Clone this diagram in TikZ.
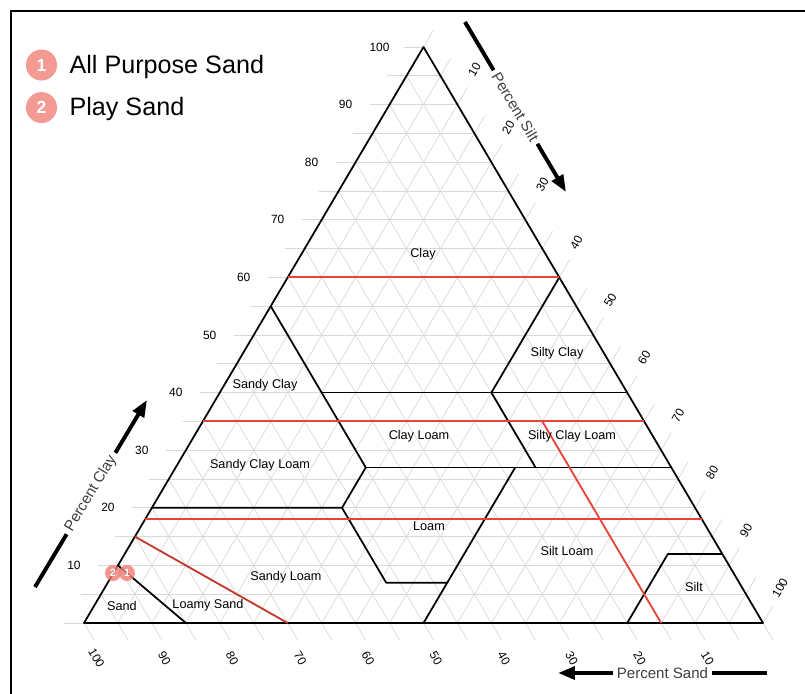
\documentclass[tikz,border=0pt]{standalone}
\usepackage{fontspec}
\setmainfont{Liberation Sans}
\usetikzlibrary{arrows.meta,positioning}

\definecolor{gridgray}{HTML}{D8D8D8}
\definecolor{markred}{HTML}{E8433A}
\definecolor{darkmark}{HTML}{C0392B}
\definecolor{dotpink}{HTML}{F39A92}
\definecolor{samplepink}{HTML}{F07C74}
\definecolor{titlegray}{HTML}{404040}

% point of the chart from clay and silt percent
\newcommand{\soilpt}[3]{\coordinate (#1) at ({84+6.79*(#3+#2/2)},{623-5.76*#2});}

\begin{document}
\begin{tikzpicture}[x=0.025cm, y=-0.025cm,
    gridline/.style={draw=gridgray, line width=0.5pt},
    border/.style={draw=black, line width=1.25pt, line join=round},
    redline/.style={draw=markred, line width=1.3pt},
    ticklabel/.style={font=\fontsize{8.5}{9}\selectfont},
    classlabel/.style={font=\fontsize{9}{10}\selectfont},
    axistitle/.style={font=\fontsize{10.7}{12}\selectfont, text=titlegray, fill=white, inner xsep=3pt, inner ysep=1pt, sloped},
    axisarrow/.style={line width=2.8pt, -{Triangle[length=12pt, width=9pt]}},
    legenddot/.style={circle, fill=dotpink, text=white, minimum size=0.775cm, inner sep=0pt, font=\fontsize{12.5}{12}\selectfont\bfseries},
    legendtext/.style={inner sep=0pt, font=\fontsize{17.9}{20}\selectfont},
    sampledot/.style={circle, fill=samplepink, fill opacity=0.8, text opacity=1, text=white, minimum size=0.4cm, inner sep=0pt, font=\fontsize{7.5}{7}\selectfont\bfseries}]

    \useasboundingbox (0,0) rectangle (805,693);
    \draw[line width=1.4pt] (11,700) -- (11,11) -- (810,11);

    % grid, every 5 percent
    \foreach \c in {0,5,...,100}
        \draw[gridline] ({64+3.395*\c},{623-5.76*\c}) -- ({763-3.395*\c},{623-5.76*\c});
    \foreach \s in {0,5,...,100}
        \draw[gridline] ({84+6.79*\s},623) -- ({433.7+3.395*\s},{29.7+5.76*\s});
    \foreach \k in {0,5,...,100}
        \draw[gridline] ({84+3.395*\k},{623-5.76*\k}) -- ({94.2+6.79*\k},640.3);

    % tick labels
    \foreach \c in {10,20,...,100}
        \node[ticklabel] at ({40+3.395*\c},{623-5.76*\c}) {\c};
    \foreach \s in {10,20,...,100}
        \node[ticklabel, rotate=60] at ({440.5+3.395*\s},{12+5.76*\s}) {\s};
    \foreach \p in {10,20,...,100}
        \node[ticklabel, rotate=-60] at ({775.5-6.79*\p},658) {\p};

    \soilpt{sandc}{0}{0}
    \soilpt{siltc}{0}{100}
    \soilpt{clayc}{100}{0}
    \soilpt{sc55}{55}{0}
    \soilpt{cl40a}{40}{15}
    \soilpt{cl40b}{40}{40}
    \soilpt{cl40c}{40}{60}
    \soilpt{cl60}{60}{40}
    \soilpt{cl35a}{35}{0}
    \soilpt{cl35b}{35}{20}
    \soilpt{cl27a}{27}{28}
    \soilpt{cl27b}{27}{50}
    \soilpt{cl27c}{27}{53}
    \soilpt{cl27d}{27}{73}
    \soilpt{cl20a}{20}{0}
    \soilpt{cl20b}{20}{28}
    \soilpt{cl7a}{7}{41}
    \soilpt{cl7b}{7}{50}
    \soilpt{si50}{0}{50}
    \soilpt{si80}{0}{80}
    \soilpt{cl12a}{12}{80}
    \soilpt{cl12b}{12}{88}
    \soilpt{sa90}{10}{0}
    \soilpt{sa85}{0}{15}
    \soilpt{ls85}{15}{0}
    \soilpt{ls70}{0}{30}
    \soilpt{redtopa}{60}{0}
    \soilpt{redtopb}{60}{40}
    \soilpt{redmida}{35}{0}
    \soilpt{redmidb}{35}{65}
    \soilpt{redlowa}{18}{0}
    \soilpt{redlowb}{18}{82}
    \soilpt{redsanda}{35}{50}
    \soilpt{redsandb}{0}{85}

    % class boundaries
    \draw[border] (sc55) -- (cl27a);
    \draw[border] (cl40a) -- (cl40c);
    \draw[border] (cl40b) -- (cl60);
    \draw[border] (cl40b) -- (cl27c);
    \draw[border] (cl27a) -- (cl27d);
    \draw[border] (cl35a) -- (cl35b);
    \draw[border] (cl20a) -- (cl20b) -- (cl27a);
    \draw[border] (cl20b) -- (cl7a) -- (cl7b) -- (si50);
    \draw[border] (cl7b) -- (cl27b);
    \draw[border] (si80) -- (cl12a) -- (cl12b);
    \draw[border] (sa90) -- (sa85);
    \draw[border] (sandc) -- (siltc) -- (clayc) -- cycle;

    \draw[redline] (redtopa) -- (redtopb);
    \draw[redline] (redmida) -- (redmidb);
    \draw[redline] (redlowa) -- (redlowb);
    \draw[redline] (redsanda) -- (redsandb);
    \draw[redline, draw=darkmark] (ls85) -- (ls70);

    % class names
    \node[classlabel] (clay) at (423,254) {Clay};
    \node[classlabel] (siltyclay) at (557,353) {Silty Clay};
    \node[classlabel] (sandyclay) at (265,385) {Sandy Clay};
    \node[classlabel] (clayloam) at (419,436) {Clay Loam};
    \node[classlabel] (siltyclayloam) at (572,436) {Silty Clay Loam};
    \node[classlabel] (sandyclayloam) at (260,465) {Sandy Clay Loam};
    \node[classlabel] (loam) at (429,526) {Loam};
    \node[classlabel] (siltloam) at (567,551) {Silt Loam};
    \node[classlabel] (sandyloam) at (286,577) {Sandy Loam};
    \node[classlabel] (loamysand) at (208,605) {Loamy Sand};
    \node[classlabel] (sand) at (122,606) {Sand};
    \node[classlabel] (silt) at (694,587) {Silt};

    % samples
    \node[sampledot] (sample2) at (113,573) {2};
    \node[sampledot] (sample1) at (127,573) {1};

    % axis titles
    \coordinate (siltfrom) at (465,22);
    \coordinate (siltto) at (566,192);
    \coordinate (clayfrom) at (35,587);
    \coordinate (clayto) at (147,400);
    \coordinate (sandfrom) at (767,673);
    \coordinate (sandto) at (558,673);
    \draw[axisarrow] (siltfrom) -- node[axistitle] {Percent Silt} (siltto);
    \draw[axisarrow] (clayfrom) -- node[axistitle] {Percent Clay} (clayto);
    \draw[axisarrow] (sandfrom) -- node[axistitle, sloped=false] {Percent Sand} (sandto);

    % legend
    \node[legenddot] (dot1) at (41.5,65) {1};
    \node[legenddot, below=0.275cm of dot1] (dot2) {2};
    \node[legendtext, right=0.3cm of dot1, anchor=base west, yshift=-0.2cm] (name1) {All Purpose Sand};
    \node[legendtext, right=0.3cm of dot2, anchor=base west, yshift=-0.2cm] (name2) {Play Sand};
\end{tikzpicture}
\end{document}
